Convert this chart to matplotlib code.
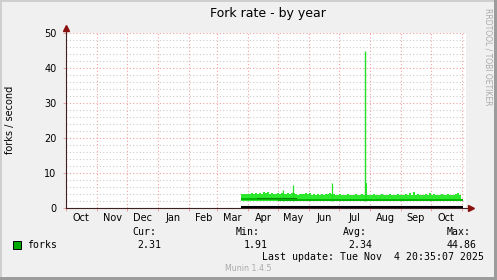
import matplotlib
matplotlib.use('Agg')
import matplotlib.pyplot as plt
import matplotlib.dates as mdates
import matplotlib.ticker as mticker
from matplotlib.patches import Rectangle
import pandas as pd

W, H = 497, 280

# ---------------- data ----------------
title = "Fork rate - by year"
y_label = "forks / second"
series_name = "forks"

# upper envelope (max) of the green area, every 2 days from 2025-03-25
env_start = "2025-03-25"
env_max = [
    4.0, 3.9, 4.1, 4.0,                                                   # Mar
    4.1, 4.3, 3.9, 4.2, 4.0, 4.4, 4.1, 4.7, 4.2, 4.5, 4.0, 4.3, 3.9, 4.1, 4.2,  # Apr
    4.0, 4.4, 4.1, 3.9, 4.2, 4.0, 4.3, 4.2, 4.0, 3.8, 4.1, 3.9, 4.0, 4.3, 3.9,  # May
    4.3, 3.8, 4.0, 3.7, 3.9, 3.8, 4.1, 3.7, 3.9, 4.0, 4.4, 4.1, 3.9, 3.8, 3.7,  # Jun
    3.9, 3.7, 3.8, 3.6, 3.9, 3.7, 3.8, 3.6, 3.9, 3.7, 3.8, 3.9, 3.8, 4.0, 3.8, 3.7,  # Jul
    3.7, 3.9, 3.6, 3.8, 3.7, 3.9, 3.6, 3.8, 3.7, 4.0, 3.6, 3.8, 3.7, 3.9, 3.6,  # Aug
    3.8, 3.7, 3.9, 3.6, 4.2, 3.8, 4.5, 3.7, 3.9, 3.6, 3.8, 3.7, 4.0, 3.8, 4.2,  # Sep
    3.7, 3.9, 3.6, 3.8, 3.7, 4.0, 3.8, 3.6, 3.9, 3.7, 3.8, 3.6, 3.9, 4.3, 3.8, 3.7,  # Oct
]

# isolated spikes
spike_dates = ["2025-05-06", "2025-05-16", "2025-06-24", "2025-07-27", "2025-07-28"]
spike_values = [5.2, 6.6, 7.2, 44.86, 7.2]

# darker (average) band, piecewise by period
band_edges = ["2025-03-25", "2025-04-01", "2025-05-01", "2025-06-01", "2025-07-01",
              "2025-08-01", "2025-09-01", "2025-10-01", "2025-11-02"]
band_lo = [2.2, 2.2, 2.1, 2.0, 2.0, 2.0, 2.0, 2.0]
band_hi = [2.9, 2.8, 2.7, 2.65, 2.6, 2.6, 2.6, 2.6]

# darker average line segment
avg_line_dates = ["2025-04-10", "2025-05-19"]
avg_line_values = [2.85, 2.85]

# black line near zero
base_dates = ["2025-03-25", "2025-11-02"]
base_values = [0.15, 0.15]

x_start = "2024-09-30 20:35"
x_end = "2025-11-04 20:35"
y_max = 50

legend_cols = ["Cur:", "Min:", "Avg:", "Max:"]
legend_vals = ["2.31", "1.91", "2.34", "44.86"]
last_update = "Last update: Tue Nov  4 20:35:07 2025"
footer = "Munin 1.4.5"
watermark = "RRDTOOL / TOBI OETIKER"

# ---------------- colors ----------------
BG = "#f0f0f0"
LIGHT = "#2ee82e"
SPIKE = "#22e022"
DARK = "#00b800"
DARKER = "#008a00"
RED_GRID = "#f2a0a0"
GRAY_GRID = "#cccccc"
ARROW = "#8b1010"

fig = plt.figure(figsize=(W / 100, H / 100), dpi=100, facecolor=BG)

left_px, right_px, top_px, bot_px = 65.9, 465.9, 33, 208
ax = fig.add_axes([left_px / W, 1 - bot_px / H, (right_px - left_px) / W, (bot_px - top_px) / H])
ax.set_facecolor("white")

# data
env_dates = pd.date_range(env_start, periods=len(env_max), freq="2D")
band_d = pd.to_datetime(band_edges)
ax.fill_between(env_dates, 2.0, env_max, step="post", color=LIGHT, lw=0, zorder=3)
ax.fill_between(band_d, band_lo + [band_lo[-1]], band_hi + [band_hi[-1]], step="post",
                color=DARK, lw=0, zorder=4)
ax.vlines(pd.to_datetime(spike_dates), 2.0, spike_values, color=SPIKE,
          lw=[0.9, 0.9, 0.9, 1.0, 1.4], zorder=3)
ax.plot(pd.to_datetime(avg_line_dates), avg_line_values, color=DARKER, lw=0.8, zorder=5)
ax.plot(pd.to_datetime(base_dates), base_values, color="black", lw=1.5, zorder=6,
        solid_capstyle="butt")

ax.set_xlim(pd.Timestamp(x_start), pd.Timestamp(x_end))
ax.set_ylim(0, y_max)

# ticks / grid
ax.yaxis.set_major_locator(mticker.MultipleLocator(10))
ax.yaxis.set_minor_locator(mticker.MultipleLocator(2))
ax.xaxis.set_major_locator(mdates.MonthLocator())
ax.xaxis.set_major_formatter(mticker.NullFormatter())
ax.xaxis.set_minor_locator(mdates.MonthLocator(bymonthday=16))
ax.xaxis.set_minor_formatter(mdates.DateFormatter("%b"))

dot = (0, (1, 2))
ax.xaxis.grid(True, which="major", color=RED_GRID, linestyle=dot, lw=0.8, zorder=1)
ax.yaxis.grid(True, which="major", color=RED_GRID, linestyle=dot, lw=0.8, zorder=1)
ax.yaxis.grid(True, which="minor", color=GRAY_GRID, linestyle=dot, lw=0.8, zorder=1)
ax.set_axisbelow(True)

ax.tick_params(axis="y", which="major", length=2.2, width=0.7, color=RED_GRID,
               labelsize=7, pad=4.5, labelcolor="black")
ax.tick_params(axis="y", which="minor", length=0)
ax.tick_params(axis="x", which="major", length=2.2, width=0.7, color=RED_GRID)
ax.tick_params(axis="x", which="minor", length=0, labelsize=7, pad=3.5)

for s in ax.spines.values():
    s.set_visible(False)

# axis lines with arrows
ax.plot([0, 0], [0, 1 + 4 / 175], transform=ax.transAxes, color="#402020", lw=0.8,
        clip_on=False, zorder=7)
ax.plot([0, 1 + 4 / 400], [0, 0], transform=ax.transAxes, color="#402020", lw=0.8,
        clip_on=False, zorder=7)
ax.plot([0], [1 + 5 / 175], transform=ax.transAxes, marker="^", ms=4.5, color=ARROW,
        clip_on=False, zorder=8)
ax.plot([1 + 5 / 400], [0], transform=ax.transAxes, marker=">", ms=4.5, color=ARROW,
        clip_on=False, zorder=8)

def ptext(x, y, s, **kw):
    fig.text(x / W, 1 - y / H, s, **kw)

ptext(268, 13, title, ha="center", va="center", fontsize=9, family="DejaVu Sans")
ptext(10, 120, y_label, ha="center", va="center", rotation=90, fontsize=7,
      family="DejaVu Sans")
ptext(488, 56.5, watermark, ha="center", va="center", rotation=270, fontsize=5.5,
      color="#aaaaaa", family="DejaVu Sans")

mono = dict(family="DejaVu Sans Mono", fontsize=7.1, va="center", ha="left")
fig.patches.append(Rectangle((13 / W, 1 - 249 / H), 8 / W, 8 / H, transform=fig.transFigure,
                             facecolor="#00aa00", edgecolor="black", lw=0.7))
ptext(26.7, 244.5, series_name, **mono)
col_x = [132, 236, 343, 447]
val_x = [137.7, 244, 348, 447]
for cx, vx, c, v in zip(col_x, val_x, legend_cols, legend_vals):
    ptext(cx, 232.3, c, **mono)
    ptext(vx, 244.5, v, **mono)
ptext(262, 256.7, last_update, **mono)
ptext(225, 268.5, footer, ha="left", va="center", fontsize=5.7, color="#aaaaaa",
      family="DejaVu Sans")

# frame borders
def rect(x, y, w, h, c):
    fig.patches.append(Rectangle((x / W, 1 - (y + h) / H), w / W, h / H,
                                 transform=fig.transFigure, facecolor=c, lw=0))
rect(0, 0, W, 2, "#cfcfcf")
rect(0, 0, 2, H, "#cfcfcf")
rect(W - 3, 0, 3, H, "#9c9c9c")
rect(0, H - 3, W, 3, "#9c9c9c")

fig.savefig("out.png", dpi=100, facecolor=BG)
